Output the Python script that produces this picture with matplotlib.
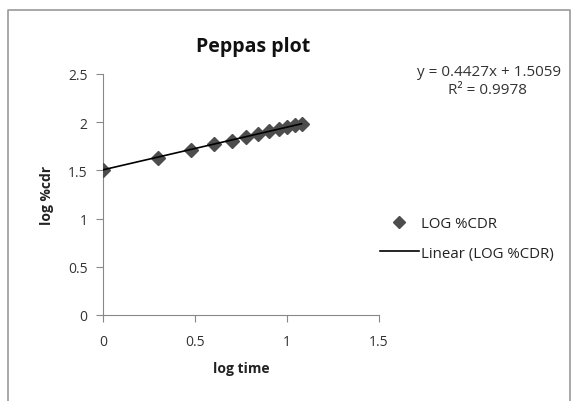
import numpy as np
import matplotlib
matplotlib.use("Agg")
import matplotlib.pyplot as plt
from matplotlib.lines import Line2D

plt.rcParams['font.family'] = ['Open Sans', 'DejaVu Sans']

log_time = [0.0, 0.301, 0.477, 0.602, 0.699, 0.778, 0.845, 0.903, 0.954, 1.0, 1.041, 1.079]
log_cdr = [1.50, 1.63, 1.71, 1.77, 1.81, 1.85, 1.88, 1.91, 1.93, 1.95, 1.97, 1.98]
slope = 0.4427
intercept = 1.5059
r2 = 0.9978
x_ticks = [0, 0.5, 1, 1.5]
y_ticks = [0, 0.5, 1, 1.5, 2, 2.5]

W, H = 572, 402
fig = plt.figure(figsize=(W / 100, H / 100), dpi=100)
# outer chart border (left, top, right edges visible)
bx0, by_top, bx1 = 8 / W, 1 - 11 / H, 570 / W
fig.lines.append(Line2D([bx0, bx0, bx1, bx1], [0, by_top, by_top, 0], transform=fig.transFigure,
                        color='#9a9a9a', linewidth=1.2))

ax = fig.add_axes([103 / W, 1 - 316 / H, 276 / W, 241 / H])

ax.plot(log_time, log_cdr, linestyle='none', marker='D', markersize=7,
        color='#4d4d4d', label='LOG %CDR', zorder=3)
xs = np.array([min(log_time), max(log_time)])
ax.plot(xs, slope * xs + intercept, color='black', linewidth=1.2,
        label='Linear (LOG %CDR)', zorder=4)

ax.set_xlim(0, 1.5)
ax.set_ylim(0, 2.5)
ax.set_xticks(x_ticks)
ax.set_xticklabels([str(t) for t in x_ticks])
ax.set_yticks(y_ticks)
ax.set_yticklabels(['0', '0.5', '1', '1.5', '2', '2.5'])
for s in ['top', 'right']:
    ax.spines[s].set_visible(False)
for s in ['left', 'bottom']:
    ax.spines[s].set_color('#888888')
ax.tick_params(axis='both', colors='#888888', labelcolor='#333333', labelsize=10,
               length=5, direction='out')
ax.tick_params(axis='x', pad=9)
ax.tick_params(axis='y', pad=6)
ax.set_xlabel('log time', fontsize=10, fontweight='bold', color='#222222', labelpad=8)
ax.set_ylabel('log %cdr', fontsize=10, fontweight='bold', color='#222222', labelpad=10)

fig.text(253 / W, 1 - 47 / H, 'Peppas plot', ha='center', va='center', fontsize=14,
         fontweight='bold', color='#111111')
fig.text(489 / W, 1 - 72 / H, 'y = 0.4427x + 1.5059', ha='center', va='center', fontsize=11, color='#333333')
fig.text(487 / W, 1 - 91 / H, 'R\u00b2 = 0.9978', ha='center', va='center', fontsize=11, color='#333333')

leg = fig.legend(loc='center left', bbox_to_anchor=(366 / W, 1 - 239.5 / H), frameon=False,
                 fontsize=10.8, handlelength=2.6, handletextpad=0.15, labelspacing=0.95,
                 markerscale=0.85)
for t in leg.get_texts():
    t.set_color('#222222')

fig.savefig('out.png', dpi=100)
